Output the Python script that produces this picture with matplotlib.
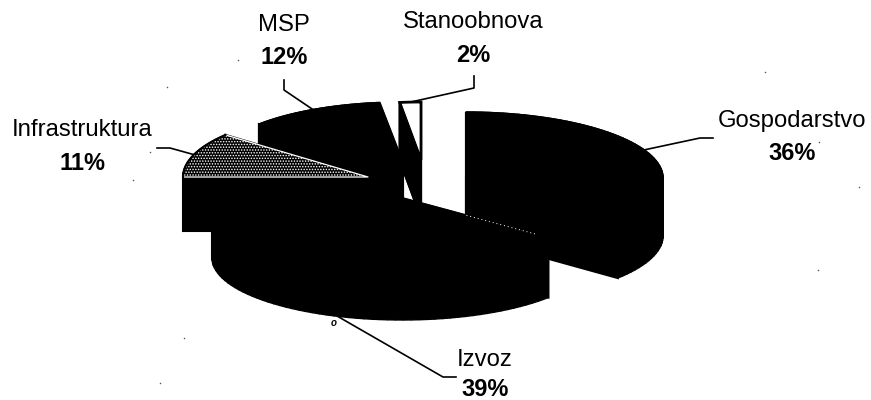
import numpy as np
import matplotlib.pyplot as plt
from matplotlib.patches import Polygon

plt.rcParams['font.family'] = ['Liberation Sans', 'DejaVu Sans']
plt.rcParams['hatch.linewidth'] = 0.7

# data, clockwise from 12 o'clock
labels = ['Gospodarstvo', 'Izvoz', 'Infrastruktura', 'MSP', 'Stanoobnova']
values = [36, 39, 11, 12, 2]

# exploded 3d look: apex x, apex y, rx, ry, depth of every slice (pixels)
apex_x = [466, 402, 368, 403, 421]
apex_y = [178, 198, 177, 163, 160]
rad_x = [197, 190, 185, 187, 170]
rad_y = [66, 62, 66, 61, 58]
depth = [58, 60, 54, 58, 58]

# label centres and leader bends
label_x = [792, 485, 82, 284, 473]
label_y = [121, 360, 130, 25, 22]
pct_y = [154, 389, 163, 58, 55]
leader_mid = [(700, 138), (443, 377), (170, 148), (284, 90), (474, 88)]
leader_end = [(713, 138), (456, 377), (157, 148), (284, 80), (474, 76)]

# scan dirt in the picture
speck_x = [167, 150, 133, 819, 859, 184, 818, 765, 160, 238]
speck_y = [87, 152, 180, 142, 187, 338, 270, 72, 383, 60]


def rim(i, a0, a1, n=60):
    t = np.radians(np.linspace(a0, a1, n))
    return np.column_stack([apex_x[i] + rad_x[i] * np.sin(t),
                            apex_y[i] - rad_y[i] * np.cos(t)])


def rim_point(i, a):
    return rim(i, a, a, 1)[0]


fig = plt.figure(figsize=(8.71, 4), dpi=100)
ax = fig.add_axes([0, 0, 1, 1])
ax.set_xlim(0, 871)
ax.set_ylim(400, 0)
ax.axis('off')

ends = np.cumsum(values) / np.sum(values) * 360
starts = np.concatenate([[0], ends[:-1]])

# back to front, Izvoz comes last
for z, i in enumerate([3, 4, 0, 2, 1]):
    z = z + 2
    a0, a1 = starts[i], ends[i]
    top = rim(i, a0, a1)
    apex = np.array([apex_x[i], apex_y[i]])
    down = np.array([0, depth[i]])

    # outer wall strip by strip, then the two cut faces
    for k in range(len(top) - 1):
        ax.add_patch(Polygon([top[k], top[k + 1], top[k + 1] + down, top[k] + down],
                             fc='black', ec='black', lw=1, zorder=z))
    for p in (top[0], top[-1]):
        ax.add_patch(Polygon([p, apex, apex + down, p + down], fc='black', ec='black', lw=1.5, zorder=z))

    face = np.vstack([apex, top])
    if labels[i] == 'Stanoobnova':
        ax.add_patch(Polygon(face, fc='white', ec='black', lw=2, zorder=z))
        ax.add_patch(Polygon([top[0], apex, apex + down, top[0] + down], fc='black', ec='black', lw=1.5, zorder=z))
    elif labels[i] == 'Infrastruktura':
        ax.add_patch(Polygon(face, fc='black', ec='white', lw=0, hatch='......', zorder=z))
        ax.plot([top[0][0], apex[0], top[-1][0]], [top[0][1], apex[1], top[-1][1]],
                color='white', lw=0.9, zorder=z)
        ax.plot(top[:, 0], top[:, 1], color='black', lw=1.5, zorder=z)
    else:
        ax.add_patch(Polygon(face, fc='black', ec='black', lw=1, zorder=z))

# broken white seam along the front edge of Izvoz
corner = rim_point(1, ends[0])
seam = np.array([apex_x[1], apex_y[1]]) + np.outer([0.44, 0.92], corner - [apex_x[1], apex_y[1]])
ax.plot(seam[:, 0], seam[:, 1], color='white', lw=0.7, ls=(0, (1, 3)), zorder=10)

# leaders and labels
for i, name in enumerate(labels):
    mid = (starts[i] + ends[i]) / 2
    p = rim_point(i, mid)
    if name == 'Izvoz':
        p = p + [0, depth[i]]
    ax.plot([p[0], leader_mid[i][0], leader_end[i][0]], [p[1], leader_mid[i][1], leader_end[i][1]],
            color='black', lw=1.2, zorder=1)
    ax.text(label_x[i], label_y[i], name, ha='center', va='center', fontsize=17.2, color='black')
    ax.text(label_x[i], pct_y[i], f'{values[i]}%', ha='center', va='center', fontsize=17,
            fontweight='bold', color='black')

ax.text(334, 323, 'o', fontsize=7, style='italic', fontweight='bold', ha='center', va='center')
ax.scatter(speck_x, speck_y, s=1.2, color='#555555', linewidths=0)

plt.savefig('out.png', dpi=100)
